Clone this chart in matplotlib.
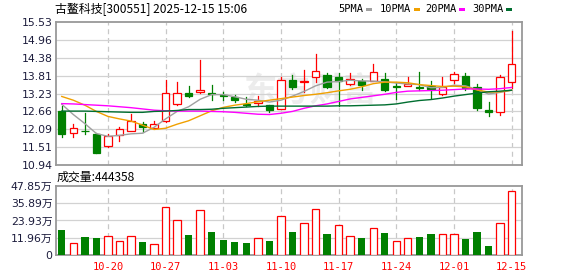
import matplotlib
matplotlib.use("Agg")
import matplotlib.pyplot as plt
from matplotlib.patches import Rectangle

W, H = 578, 276

title = "古鳌科技[300551] 2025-12-15 15:06"
last_volume = 444358

opens = [12.67, 11.98, 12.04, 11.95, 11.56, 11.91, 12.02, 12.25, 12.14, 12.34,
         12.91, 13.25, 13.27, 13.24, 13.20, 13.13, 12.89, 12.92, 12.88, 12.74,
         13.67, 13.62, 13.76, 13.82, 13.75, 13.53, 13.63, 13.65, 13.69, 13.48,
         13.47, 13.45, 13.49, 13.21, 13.66, 13.80, 13.43, 12.70, 12.65, 13.61]
highs = [12.83, 12.24, 12.60, 11.96, 11.95, 12.16, 12.58, 12.33, 12.35, 13.66,
         13.60, 13.48, 14.30, 13.50, 13.29, 13.20, 13.11, 13.14, 12.88, 13.75,
         13.82, 13.98, 14.50, 13.88, 13.88, 13.88, 13.71, 14.17, 13.88, 13.56,
         13.77, 13.91, 13.63, 13.77, 13.93, 13.88, 13.53, 12.95, 13.84, 15.23]
lows = [11.85, 11.83, 11.93, 11.34, 11.52, 11.72, 12.02, 11.99, 12.14, 12.33,
        12.86, 13.11, 13.26, 13.02, 13.03, 12.95, 12.84, 12.84, 12.63, 12.73,
        13.38, 13.29, 13.61, 13.40, 12.84, 13.50, 13.34, 13.64, 13.30, 13.07,
        13.46, 13.34, 13.10, 13.20, 13.57, 13.35, 12.69, 12.51, 12.54, 13.40]
closes = [11.94, 12.12, 12.02, 11.34, 11.87, 12.09, 12.36, 12.16, 12.26, 13.24,
          13.26, 13.15, 13.36, 13.21, 13.17, 13.02, 12.86, 12.98, 12.70, 13.67,
          13.45, 13.65, 13.96, 13.45, 13.65, 13.70, 13.50, 13.91, 13.36, 13.44,
          13.53, 13.40, 13.38, 13.45, 13.86, 13.42, 12.76, 12.64, 13.76, 14.19]

ma5 = [12.89, 12.56, 12.27, 11.95, 11.86, 11.89, 11.94, 11.96, 12.15, 12.42,
       12.66, 12.81, 13.05, 13.20, 13.20, 13.13, 13.05, 13.02, 12.96, 13.02,
       13.15, 13.30, 13.48, 13.60, 13.62, 13.66, 13.64, 13.63, 13.61, 13.57,
       13.54, 13.52, 13.42, 13.43, 13.50, 13.48, 13.36, 13.22, 13.27, 13.34]
ma10 = [13.14, 13.02, 12.86, 12.66, 12.50, 12.42, 12.35, 12.22, 12.08, 12.12,
        12.25, 12.36, 12.52, 12.68, 12.79, 12.86, 12.91, 12.97, 13.02, 13.07,
        13.12, 13.17, 13.21, 13.26, 13.32, 13.37, 13.45, 13.55, 13.60, 13.60,
        13.58, 13.52, 13.49, 13.46, 13.47, 13.45, 13.35, 13.28, 13.29, 13.34]
ma20 = [12.91, 12.90, 12.88, 12.86, 12.84, 12.81, 12.78, 12.74, 12.70, 12.68,
        12.67, 12.67, 12.67, 12.66, 12.65, 12.63, 12.60, 12.57, 12.56, 12.60,
        12.66, 12.76, 12.84, 12.90, 12.98, 13.06, 13.11, 13.16, 13.21, 13.27,
        13.31, 13.32, 13.33, 13.34, 13.36, 13.38, 13.38, 13.37, 13.39, 13.43]
ma30 = [12.67, 12.67, 12.67, 12.66, 12.65, 12.64, 12.63, 12.63, 12.66, 12.67,
        12.69, 12.72, 12.72, 12.73, 12.76, 12.78, 12.80, 12.82, 12.83, 12.83,
        12.83, 12.83, 12.83, 12.83, 12.84, 12.84, 12.85, 12.86, 12.87, 12.90,
        12.96, 13.01, 13.04, 13.09, 13.15, 13.20, 13.25, 13.29, 13.31, 13.34]

# volume in 万
volumes = [17.3, 8.1, 12.4, 11.7, 12.9, 9.7, 12.9, 9.0, 7.4, 33.6,
           24.6, 13.8, 31.5, 15.9, 10.4, 9.0, 8.3, 11.5, 9.7, 26.7,
           15.9, 22.5, 32.2, 14.5, 20.5, 12.9, 11.7, 18.4, 15.2, 9.7,
           11.5, 12.4, 14.5, 14.3, 14.3, 11.0, 15.9, 6.2, 21.9, 44.4358]

price_ticks = [10.94, 11.51, 12.09, 12.66, 13.23, 13.81, 14.38, 14.96, 15.53]
vol_ticks = [0, 11.96, 23.93, 35.89, 47.85]
date_pos = [4, 9, 14, 19, 24, 29, 34, 39]
date_labels = ["10-20", "10-27", "11-03", "11-10", "11-17", "11-24", "12-01", "12-15"]

legend_names = ["5PMA", "10PMA", "20PMA", "30PMA"]
ma_colors = ["#a0a0a0", "#f0a000", "#ff00ff", "#006e30"]

UP = "#ff0000"
DOWN = "#008000"
FRAME = "#999999"
GRID = "#d2d2d2"
CJK = ["Noto Sans CJK SC", "DejaVu Sans"]


def fx(x):
    return x / W


def fy(y):
    return 1 - y / H


fig = plt.figure(figsize=(W / 100, H / 100), dpi=100)
ax = fig.add_axes([fx(56), fy(165), 466 / W, 143 / H])
axv = fig.add_axes([fx(56), fy(255), 466 / W, 69 / H])

n = len(closes)
bw = 0.64

for a in (ax, axv):
    a.set_xlim(-0.5, n - 0.1)
    for s in a.spines.values():
        s.set_color(FRAME)
        s.set_linewidth(1.3)
    a.tick_params(length=0)
    for p in date_pos:
        a.axvline(p, color="#c8c8c8", lw=0.9, ls=(0, (4, 3)), zorder=1)

# price panel
ax.set_ylim(price_ticks[0], price_ticks[-1])
ax.set_yticks(price_ticks)
ax.set_yticklabels([f"{t:.2f}" for t in price_ticks], fontsize=7.8,
                   color="#1c1c3c", family="DejaVu Sans")
ax.tick_params(axis="y", pad=2.5)
ax.set_xticks([])
for t in price_ticks[1:-1]:
    ax.axhline(t, color=GRID, lw=0.9, zorder=1)

ax.text(0.545, 0.51, "东方财富", transform=ax.transAxes, fontsize=24,
        color="#ececec", ha="center", va="center", family=CJK,
        fontweight="bold", zorder=0)

for i in range(n):
    o, h, l, c = opens[i], highs[i], lows[i], closes[i]
    if c >= o:
        ax.plot([i, i], [l, o], color=UP, lw=0.9, zorder=3)
        ax.plot([i, i], [c, h], color=UP, lw=0.9, zorder=3)
        ax.add_patch(Rectangle((i - bw / 2, o), bw, max(c - o, 0.005),
                               facecolor="white", edgecolor=UP, lw=0.9, zorder=4))
    else:
        ax.plot([i, i], [l, h], color=DOWN, lw=0.9, zorder=3)
        ax.add_patch(Rectangle((i - bw / 2, c), bw, o - c,
                               facecolor=DOWN, edgecolor=DOWN, lw=0.9, zorder=4))

x = list(range(n))
for ma, col in zip([ma5, ma10, ma20, ma30], ma_colors):
    ax.plot(x, ma, color=col, lw=1.0, zorder=5)

# volume panel
axv.set_ylim(vol_ticks[0], vol_ticks[-1])
axv.set_yticks(vol_ticks)
axv.set_yticklabels(["0"] + [f"{t:.2f}万" for t in vol_ticks[1:]], fontsize=7.8,
                    color="#1c1c3c", family=["DejaVu Sans", "Noto Sans CJK SC"])
axv.tick_params(axis="y", pad=2.5)
for t in vol_ticks[1:-1]:
    axv.axhline(t, color=GRID, lw=0.9, zorder=1)
axv.set_xticks(date_pos)
axv.set_xticklabels(date_labels, fontsize=7.5, color=UP, family="DejaVu Sans Mono")
axv.tick_params(axis="x", pad=5)

for i in range(n):
    prev = closes[i - 1] if i > 0 else opens[i]
    if closes[i] >= prev:
        axv.add_patch(Rectangle((i - bw / 2, 0), bw, volumes[i], facecolor="white",
                                edgecolor=UP, lw=0.9, zorder=3))
    else:
        axv.bar(i, volumes[i], width=bw, color=DOWN, zorder=3)

# header texts
fig.text(fx(55), fy(9), title, fontsize=8.6, family=CJK, va="center", ha="left")
fig.text(fx(57), fy(177), f"成交量:{last_volume}", fontsize=8.6, family=CJK,
         va="center", ha="left")

lx = [338, 380, 425, 472]
for name, col, x0 in zip(legend_names, ma_colors, lx):
    t = fig.text(fx(x0), fy(9), name, fontsize=7.5, family="DejaVu Sans Mono",
                 va="center", ha="left")
    sx = x0 + 6.2 * len(name) + 3
    fig.add_artist(Rectangle((fx(sx), fy(11)), 6 / W, 3.5 / H, facecolor=col,
                             edgecolor="none", transform=fig.transFigure))

fig.savefig("out.png", dpi=100)
